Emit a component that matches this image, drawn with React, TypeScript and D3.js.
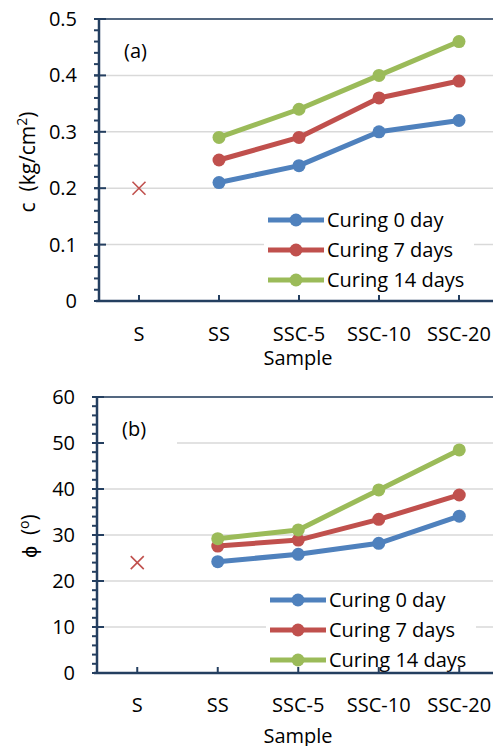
import React from "react";
import * as d3 from "d3";

// values
const categories = ["S", "SS", "SSC-5", "SSC-10", "SSC-20"];
const seriesNames = ["Curing 0 day", "Curing 7 days", "Curing 14 days"];
const colors = ["#4F81BD", "#C0504D", "#9BBB59"];

const cTicks = [0, 0.1, 0.2, 0.3, 0.4, 0.5];
const c0 = [0.21, 0.24, 0.3, 0.32];
const c7 = [0.25, 0.29, 0.36, 0.39];
const c14 = [0.29, 0.34, 0.4, 0.46];
const cSoil = 0.2;

const phiTicks = [0, 10, 20, 30, 40, 50, 60];
const phi0 = [24.2, 25.8, 28.2, 34.1];
const phi7 = [27.6, 28.9, 33.4, 38.7];
const phi14 = [29.2, 31.1, 39.8, 48.5];
const phiSoil = 24;

const FONT = "'Open Sans', sans-serif";
const AXIS = "#243F60";
const GRID = "#D9D9D9";

function Panel(props) {
  const { x0, top, bottom, domain, ticks, minorStep, series, soil, tag, tagBox,
    yLabel, labelX, fmt, legendRows, legendX, legendBox, xLabelY, sampleY } = props;
  const x = d3.scaleBand().domain(categories).range([x0, x0 + 5 * props.band]);
  const y = d3.scaleLinear().domain(domain).range([bottom, top]);
  const cx = (c) => x(c) + x.bandwidth() / 2;
  const right = 493;
  const line = d3.line().x((d) => cx(d[0])).y((d) => y(d[1]));
  const minors = d3.range(domain[0], domain[1] + 1e-9, minorStep);
  const sx = cx("S"), sy = y(soil);

  return (
    <g>
      {ticks.slice(1).map((t) => (
        <line key={t} x1={x0} x2={right} y1={y(t)} y2={y(t)} stroke={GRID} strokeWidth={1.5} />
      ))}
      {tagBox && <rect x={x0 + 2} y={tagBox[0]} width={tagBox[1]} height={tagBox[2]} fill="#fff" />}
      <text x={x0 + 25} y={tag[1]} fontFamily={FONT} fontSize={20} fill="#000">{tag[0]}</text>
      {/* S only has a single value */}
      <g stroke="#C0504D" strokeWidth={1.6}>
        <line x1={sx - 6.5} x2={sx + 6.5} y1={sy - 6.5} y2={sy + 6.5} />
        <line x1={sx - 6.5} x2={sx + 6.5} y1={sy + 6.5} y2={sy - 6.5} />
      </g>
      {series.map((vals, i) => {
        const pts = vals.map((v, j) => [categories[j + 1], v]);
        return (
          <g key={i}>
            <path d={line(pts)} fill="none" stroke={colors[i]} strokeWidth={5} strokeLinejoin="round" />
            {pts.map((p) => (
              <circle key={p[0]} cx={cx(p[0])} cy={y(p[1])} r={6.5} fill={colors[i]} />
            ))}
          </g>
        );
      })}
      <rect x={legendBox[0]} y={legendBox[1]} width={legendBox[2]} height={legendBox[3]} fill="#fff" />
      {seriesNames.map((n, i) => (
        <g key={n}>
          <line x1={legendX} x2={legendX + 56} y1={legendRows[i]} y2={legendRows[i]} stroke={colors[i]} strokeWidth={5} />
          <circle cx={legendX + 28} cy={legendRows[i]} r={6.5} fill={colors[i]} />
          <text x={legendX + 59} y={legendRows[i] + 7} fontFamily={FONT} fontSize={20} fill="#000">{n}</text>
        </g>
      ))}
      {/* axes */}
      <line x1={x0} x2={right} y1={top} y2={top} stroke={AXIS} strokeWidth={1.5} />
      {minors.map((m) => (
        <line key={m} x1={x0 - 5} x2={x0} y1={y(m)} y2={y(m)} stroke={AXIS} strokeWidth={2} />
      ))}
      {ticks.map((t) => (
        <g key={t}>
          <line x1={x0 - 5} x2={x0 + 7} y1={y(t)} y2={y(t)} stroke={AXIS} strokeWidth={2} />
          <text x={x0 - 22} y={y(t) + 7} textAnchor="end" fontFamily={FONT} fontSize={20} fill="#000">{fmt(t)}</text>
        </g>
      ))}
      <line x1={x0} x2={x0} y1={top - 1} y2={bottom + 1} stroke={AXIS} strokeWidth={2.5} />
      <line x1={x0 - 3} x2={right} y1={bottom} y2={bottom} stroke={AXIS} strokeWidth={2.5} />
      {categories.map((c) => (
        <g key={c}>
          <line x1={cx(c)} x2={cx(c)} y1={bottom} y2={bottom - 6} stroke={AXIS} strokeWidth={2} />
          <text x={cx(c)} y={xLabelY} textAnchor="middle" fontFamily={FONT} fontSize={20} fill="#000">{c}</text>
        </g>
      ))}
      <text x={298} y={sampleY} textAnchor="middle" fontFamily={FONT} fontSize={20} fill="#000">Sample</text>
      <text transform={`translate(${labelX[0]},${labelX[1]}) rotate(-90)`} textAnchor="middle"
        fontFamily={FONT} fontSize={21} fill="#000" style={{ whiteSpace: "pre" }}>{yLabel}</text>
    </g>
  );
}

export default function App() {
  return (
    <svg width={493} height={746} style={{ position: "absolute", left: 0, top: 0, background: "#fff" }}>
      <Panel x0={99} band={80} top={19} bottom={301} domain={[0, 0.5]} ticks={cTicks} minorStep={0.02}
        series={[c0, c7, c14]} soil={cSoil} tag={["(a)", 58]} fmt={(t) => (t === 0 ? "0" : d3.format(".1f")(t))}
        labelX={[35, 162]} legendRows={[220, 250, 280]} legendX={268} legendBox={[264, 205, 210, 93]}
        xLabelY={341} sampleY={365}
        yLabel={<>c  (kg/cm<tspan fontSize={14} dy={-8}>2</tspan><tspan dy={8}>)</tspan></>} />
      <Panel x0={97} band={80.5} top={397} bottom={673} domain={[0, 60]} ticks={phiTicks} minorStep={2}
        series={[phi0, phi7, phi14]} soil={phiSoil} tag={["(b)", 436]} tagBox={[405, 78, 45]} fmt={(t) => String(t)}
        labelX={[37, 536]} legendRows={[600, 630, 660]} legendX={270} legendBox={[266, 588, 210, 82]}
        xLabelY={712} sampleY={743}
        yLabel={<>ϕ  (<tspan fontSize={14} dy={-8}>o</tspan><tspan dy={8}>)</tspan></>} />
    </svg>
  );
}
